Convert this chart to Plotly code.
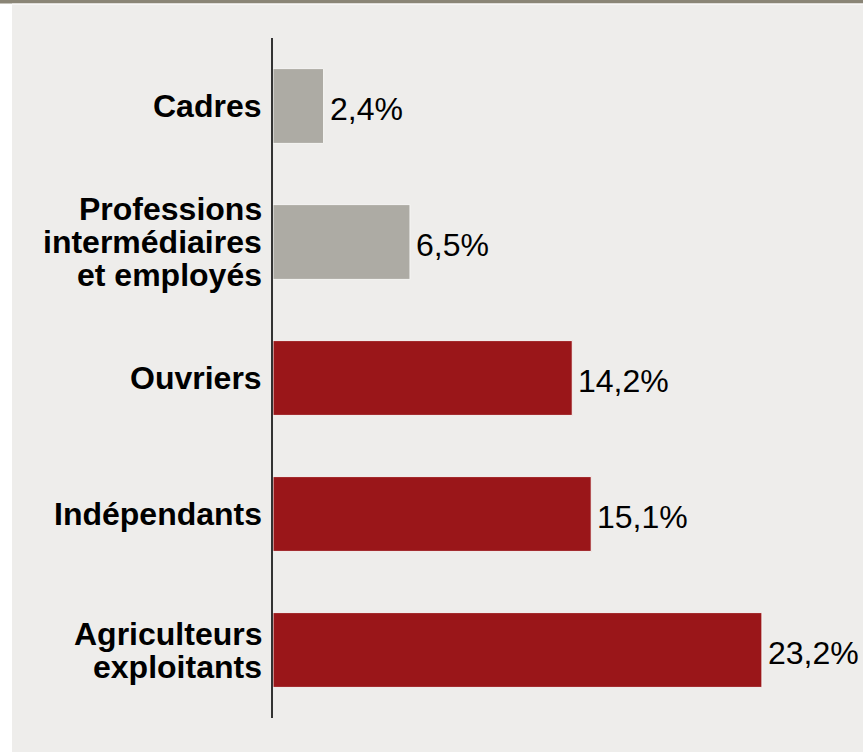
import plotly.graph_objects as go

categories = ["Cadres", "Professions<br>intermédiaires<br>et employés", "Ouvriers",
              "Indépendants", "Agriculteurs<br>exploitants"]
values = [2.4, 6.5, 14.2, 15.1, 23.2]
value_labels = ["2,4%", "6,5%", "14,2%", "15,1%", "23,2%"]
bar_colors = ["#ADABA4", "#ADABA4", "#9A1619", "#9A1619", "#9A1619"]

W, H = 863, 752
ML, MR, MT, MB = 273, 21, 38, 34
PW, PH = W - ML - MR, H - MT - MB

def px_x(px):
    return (px - ML) / PW

def px_y(py):
    return (H - MB - py) / PH

font = "Liberation Sans, Arial, sans-serif"

fig = go.Figure(go.Bar(
    x=values, y=categories, orientation="h",
    marker=dict(color=bar_colors, line=dict(color="#F6F6F4", width=1)),
    hoverinfo="x+y",
))

annotations = []
LINE_H = 33
for cat in categories:
    lines = cat.split("<br>")
    n = len(lines)
    for k, ln in enumerate(lines):
        annotations.append(dict(
            x=0, xref="paper", y=cat, yref="y", text="<b>" + ln + "</b>",
            xanchor="right", yanchor="middle", xshift=-9,
            yshift=((n - 1) / 2 - k) * LINE_H, showarrow=False,
            font=dict(family=font, size=32, color="#000000"),
        ))

for cat, v, lab in zip(categories, values, value_labels):
    annotations.append(dict(
        x=v, xref="x", y=cat, yref="y", text=lab,
        xanchor="left", yanchor="middle", xshift=4, yshift=-3,
        showarrow=False, font=dict(family=font, size=32, color="#000000"),
    ))

shapes = [
    dict(type="rect", xref="paper", yref="paper", x0=px_x(0), x1=px_x(12),
         y0=px_y(H), y1=px_y(0), fillcolor="#FFFFFF", line=dict(width=0), layer="below"),
    dict(type="rect", xref="paper", yref="paper", x0=px_x(0), x1=px_x(W),
         y0=px_y(3.5), y1=px_y(0), fillcolor="#8A8576", line=dict(width=0)),
    dict(type="rect", xref="paper", yref="paper", x0=px_x(12), x1=px_x(W),
         y0=px_y(4.5), y1=px_y(3.5), fillcolor="#FFFFFF", line=dict(width=0)),
]

fig.update_layout(
    width=W, height=H,
    margin=dict(l=ML, r=MR, t=MT, b=MB, pad=0),
    paper_bgcolor="#EEEDEB", plot_bgcolor="#EEEDEB",
    showlegend=False, bargap=0.45,
    xaxis=dict(range=[0, 27], visible=False, fixedrange=True),
    yaxis=dict(autorange="reversed", showticklabels=False, showgrid=False,
               showline=True, linecolor="#333333", linewidth=1.5, ticks="",
               zeroline=False, fixedrange=True),
    annotations=annotations, shapes=shapes,
)

fig.write_html("out.html", config={"displayModeBar": False},
               post_script="document.body.style.margin='0';document.body.style.overflow='hidden';")
